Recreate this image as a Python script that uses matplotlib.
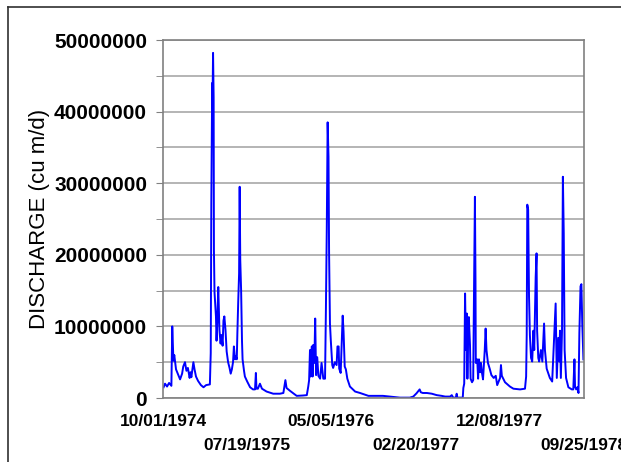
import numpy as np
import matplotlib
matplotlib.use("Agg")
import matplotlib.pyplot as plt
from matplotlib.lines import Line2D

# days since 10/01/1974 and discharge (millions of cu m/d)
days = [2, 7, 14, 21, 29, 32, 36, 39, 45, 55, 59, 66, 70, 76, 81, 86, 92, 95, 98,
        105, 109, 114, 121, 131, 140, 149, 162, 165, 167, 170, 171, 173, 175, 176,
        178, 183, 185, 188, 191, 195, 199, 202, 206, 209, 212, 216, 220, 225, 230,
        234, 238, 242, 245, 249, 252, 255, 257, 260, 263, 265, 267, 270, 273, 275,
        280, 283, 291, 301, 311, 318, 321, 323, 328, 335, 342, 358, 381, 404, 416,
        423, 427, 439, 462, 484, 497, 502,
        505, 508, 510, 514, 517, 519, 523, 526, 529, 533, 537, 543, 548, 554, 560,
        563, 566, 569, 572, 574, 577, 580, 585, 588, 594, 600, 603, 607, 609, 614,
        619, 621, 624, 628, 632, 637, 646, 664, 681, 710, 760, 784, 819, 853, 865,
        876, 887, 891, 898, 912, 929, 946, 963, 975,
        992, 998, 1003, 1012, 1015, 1017, 1036, 1038, 1041, 1044, 1047, 1050, 1052,
        1055, 1057, 1061, 1063, 1068, 1072, 1075, 1078, 1080, 1081, 1086, 1089,
        1092, 1096, 1099, 1102, 1106, 1112, 1115, 1118, 1123, 1129, 1135, 1143,
        1150, 1155, 1165, 1168, 1171, 1182, 1199, 1211, 1234, 1251, 1255, 1257,
        1259, 1262, 1265, 1268, 1272, 1276, 1280, 1283, 1288, 1291, 1293, 1297,
        1300, 1306, 1311, 1317, 1320, 1326, 1337, 1345, 1351, 1357, 1361, 1366,
        1370, 1372, 1375, 1379, 1382, 1385, 1388, 1393, 1401, 1413, 1418, 1422,
        1424, 1428, 1432, 1436, 1439, 1443, 1446, 1449, 1453]
flow_m = [1.5, 2.0, 1.6, 2.1, 1.7, 10.0, 5.2, 6.0, 4.0, 3.0, 2.6, 3.4, 4.4, 5.0, 3.8,
          4.2, 2.8, 3.6, 2.9, 5.0, 4.0, 3.0, 2.4, 1.8, 1.5, 1.8, 1.9, 6.3, 27.4, 44.0,
          40.5, 48.2, 42.0, 20.7, 14.8, 11.4, 8.0, 11.0, 15.5, 9.5, 7.6, 8.8, 7.3,
          10.8, 11.4, 9.5, 6.5, 5.0, 4.2, 3.4, 4.0, 5.0, 7.2, 5.4, 5.8, 5.4, 9.0,
          13.5, 17.4, 29.5, 19.3, 15.0, 8.0, 5.4, 3.8, 3.0, 2.3, 1.5, 1.2, 1.2, 3.5,
          1.3, 1.3, 2.0, 1.3, 0.9, 0.6, 0.6, 0.7, 2.5, 1.4, 1.0, 0.3, 0.35, 0.4, 1.6,
          2.5, 6.7, 3.0, 7.2, 3.0, 7.4, 4.9, 11.1, 3.2, 5.7, 3.1, 2.7, 4.9, 2.7, 2.7,
          12.3, 23.5, 38.5, 33.7, 20.2, 10.4, 8.0, 4.6, 4.2, 5.0, 4.6, 7.2, 7.2, 4.1,
          3.5, 9.5, 11.5, 9.3, 4.4, 4.0, 2.7, 1.6, 0.9, 0.7, 0.3, 0.3, 0.2, 0.05,
          0.05, 0.2, 0.65, 1.2, 0.8, 0.7, 0.7, 0.6, 0.4, 0.3, 0.2,
          0.2, 0.4, 0.05, 0.05, 0.6, 0.05, 0.05, 1.4, 2.0, 14.6, 6.7, 11.8, 2.7, 10.0,
          11.3, 7.4, 2.7, 2.2, 2.5, 15.3, 28.1, 16.3, 4.9, 5.4, 2.7, 5.4, 3.6, 4.9,
          3.6, 2.6, 6.7, 9.7, 6.7, 4.9, 4.1, 3.2, 2.8, 3.1, 1.8, 2.8, 4.6, 3.1, 2.2,
          1.6, 1.3, 1.2, 1.3, 3.0, 8.8, 27.0, 26.3, 14.2, 8.8, 5.6, 5.1, 9.4, 6.7,
          16.9, 20.2, 9.4, 5.6, 5.1, 6.7, 5.1, 10.4, 6.7, 4.1, 2.8, 2.3, 7.9, 13.2,
          2.8, 8.4, 5.1, 9.4, 2.8, 9.4, 30.9, 23.0, 6.7, 2.8, 1.5, 1.2, 1.2, 5.4,
          1.6, 1.2, 1.5, 0.7, 9.1, 15.6, 15.9, 10.4, 5.4]

tick_dates = ["1974-10-01", "1975-07-19", "1976-05-05", "1977-02-20", "1977-12-08", "1978-09-25"]
tick_labels = ["10/01/1974", "07/19/1975", "05/05/1976", "02/20/1977", "12/08/1977", "09/25/1978"]
y_ticks = [0, 10000000, 20000000, 30000000, 40000000, 50000000]

plt.rcParams['font.family'] = ['Liberation Sans', 'DejaVu Sans']

start = np.datetime64("1974-10-01")
x = start + np.array(days).astype("timedelta64[D]")
y = np.array(flow_m) * 1e6

fig = plt.figure(figsize=(6.21, 4.62), dpi=100)
ax = fig.add_axes([163 / 621, 1 - 398 / 462, 421 / 621, 358 / 462])

ax.plot(x, y, color="#0000ff", lw=1.4)

ax.set_xlim(np.datetime64(tick_dates[0]), np.datetime64(tick_dates[-1]))
ax.set_ylim(0, 50000000)

ax.set_xticks([np.datetime64(d) for d in tick_dates])
ax.set_xticklabels(tick_labels, fontsize=12.5, fontweight="bold")
ax.tick_params(axis="x", length=0, pad=11.5)
for i, t in enumerate(ax.xaxis.get_major_ticks()):
    if i % 2 == 1:
        t.set_pad(28.5)

ax.set_yticks(y_ticks)
ax.set_yticklabels([str(v) for v in y_ticks], fontsize=15, fontweight="bold")
ax.set_yticks(np.arange(5000000, 50000000, 10000000), minor=True)
ax.tick_params(axis="y", which="both", length=5, color="#808080", pad=6.5)

ax.grid(axis="y", which="both", color="#a8a8a8", lw=1.2)
ax.set_axisbelow(True)
for s in ax.spines.values():
    s.set_color("#808080")
    s.set_linewidth(1.2)

ax.set_ylabel("DISCHARGE (cu m/d)", fontsize=16)
ax.yaxis.set_label_coords((50 - 163) / 421, 0.5)

# outer frame (top and left edges only are in view)
fig.add_artist(Line2D([8 / 621, 8 / 621], [0, 1 - 7 / 462], color="#303030", lw=1.2))
fig.add_artist(Line2D([8 / 621, 1], [1 - 7 / 462, 1 - 7 / 462], color="#303030", lw=1.2))

fig.savefig("out.png", dpi=100)
